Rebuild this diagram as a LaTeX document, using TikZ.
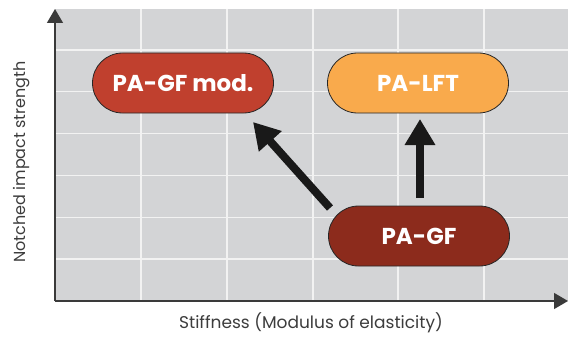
\documentclass[tikz,border=0pt]{standalone}
\usepackage{fontspec}
\setmainfont{Poppins}
\usetikzlibrary{arrows.meta,shapes.misc}
\definecolor{bgray}{HTML}{D3D4D6}
\definecolor{gridw}{HTML}{F2F2F2}
\definecolor{axisc}{HTML}{3A3A3A}
\definecolor{labc}{HTML}{3C3C3C}
\definecolor{redA}{HTML}{C0402E}
\definecolor{orangeA}{HTML}{F9AA4C}
\definecolor{darkA}{HTML}{8C2B1C}
\tikzset{
  gridline/.style={draw=gridw, line width=1.2pt},
  axisline/.style={draw=axisc, line width=1.4pt, -{Triangle[length=14pt,width=16pt]}},
  pill/.style={rounded rectangle, minimum width=181pt, minimum height=60pt, inner sep=0pt,
    draw=black!85, line width=0.8pt, text=white, font=\bfseries\fontsize{23}{23}\selectfont},
  bigarrow/.style={draw=black!90, line width=8pt, -{Triangle[length=26pt,width=29pt]}},
  axislabel/.style={text=labc, font=\fontsize{16}{16}\selectfont, inner sep=0pt}
}
\begin{document}
\begin{tikzpicture}[x=1pt,y=-1pt]
\useasboundingbox (0,0) rectangle (570,345);
\fill[bgray] (55,9) rectangle (568,301);
\foreach \x in {141,227,313,398,484} \draw[gridline] (\x,9) -- (\x,301);
\foreach \y in {50,91.7,133.5,175.3,217.1,259} \draw[gridline] (55,\y) -- (568,\y);
\coordinate (o) at (55,301);
\coordinate (ytip) at (55,9);
\coordinate (xtip) at (568,301);
\draw[axisline] (o) -- (ytip);
\draw[axisline] (o) -- (xtip);
\node[pill, fill=redA] (gfm) at (183,83) {PA-GF mod.};
\node[pill, fill=orangeA] (lft) at (418,83) {PA-LFT};
\node[pill, fill=darkA] (gf) at (419,236) {PA-GF};
\coordinate (dtail) at (330,208);
\coordinate (dtip) at (253,122);
\draw[bigarrow] (dtail) -- (dtip);
\coordinate (vtail) at (420,198);
\coordinate (vtip) at (420,119);
\draw[bigarrow] (vtail) -- (vtip);
\node[axislabel, font=\fontsize{17}{17}\selectfont] (xl) at (311,323) {Stiffness (Modulus of elasticity)};
\node[axislabel, rotate=90] (yl) at (22,162) {Notched impact strength};
\end{tikzpicture}
\end{document}
